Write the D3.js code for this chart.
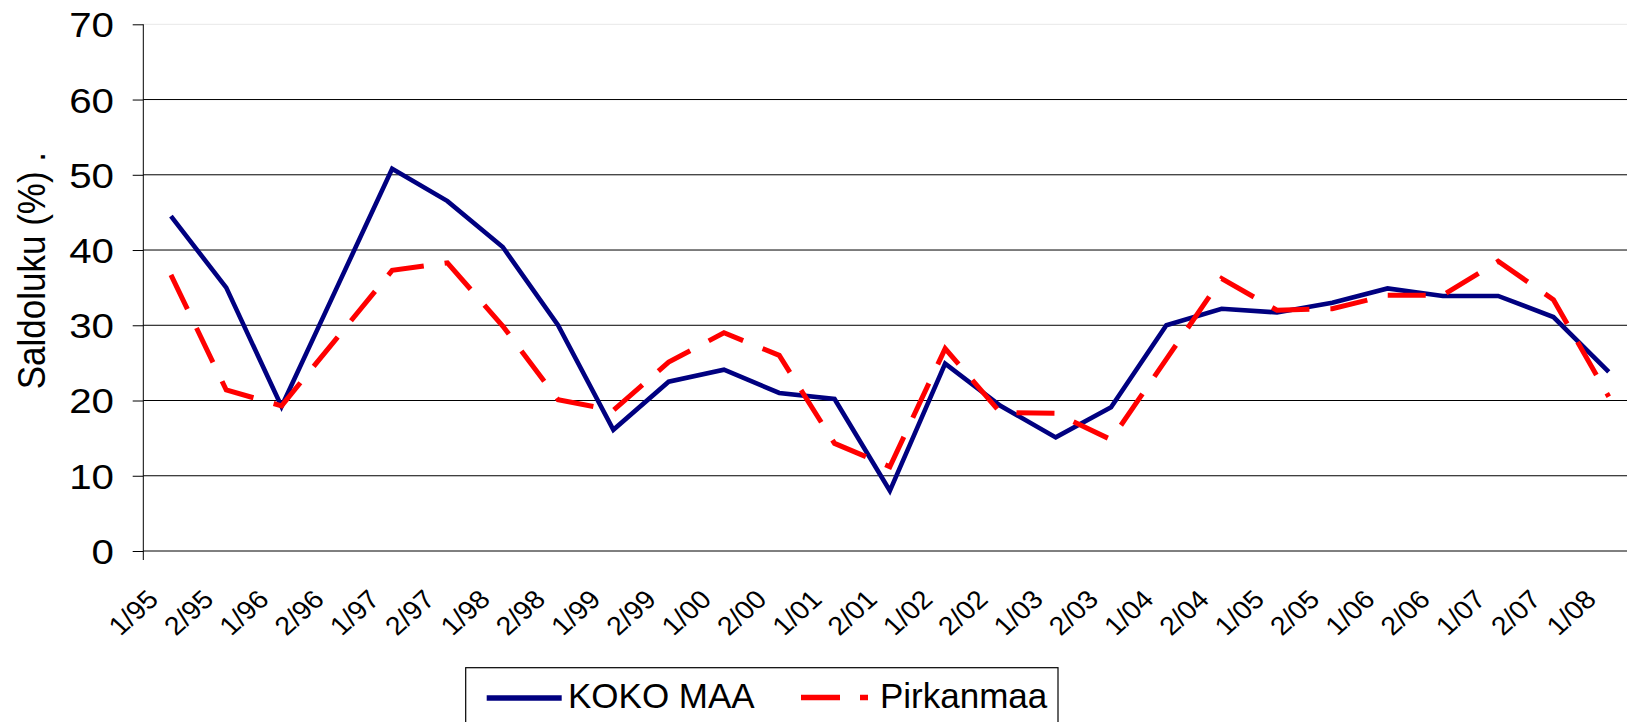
<!DOCTYPE html>
<html>
<head>
<meta charset="utf-8">
<script src="https://cdn.jsdelivr.net/npm/d3@7"></script>
<style>
html,body{margin:0;padding:0;background:#fff;}
svg{display:block;font-family:"Liberation Sans",Arial,sans-serif;}
</style>
</head>
<body>
<svg id="chart" width="1627" height="722"></svg>
<script>
const categories = ["1/95","2/95","1/96","2/96","1/97","2/97","1/98","2/98","1/99","2/99","1/00","2/00","1/01","2/01","1/02","2/02","1/03","2/03","1/04","2/04","1/05","2/05","1/06","2/06","1/07","2/07","1/08"];
const kokoMaa = [44.5,35,19.2,35,50.8,46.5,40.4,30,16.1,22.5,24.1,21,20.2,8,24.9,19.3,15.1,19.1,30,32.2,31.7,33,34.9,33.9,33.9,31.1,23.8];
const pirkanmaa = [36.7,21.4,19.3,28.3,37.3,38.3,29.9,20.1,18.7,25.1,29,26,14.3,11.2,26.9,18.4,18.3,14.8,25.5,36.2,32,32.2,34,34,38.5,33.4,20.5];
const yTicks = [0,10,20,30,40,50,60,70];
const seriesNames = ["KOKO MAA","Pirkanmaa"];
const yTitle = "Saldoluku (%) .";

const svg = d3.select("#chart");
const axisX = 143.3, plotTop = 24.3, plotBottom = 551, band = 55.3;
const x = d3.scaleBand().domain(categories).range([axisX, axisX + band*categories.length]).paddingInner(0).paddingOuter(0);
const y = d3.scaleLinear().domain([0,70]).range([plotBottom, plotTop]);
const cx = c => x(c) + x.bandwidth()/2;

// gridlines
svg.append("g").selectAll("line").data(yTicks).join("line")
  .attr("x1", axisX).attr("x2", 1627)
  .attr("y1", d => y(d)).attr("y2", d => y(d))
  .attr("stroke", d => d === 70 ? "#e8e8e8" : "#000").attr("stroke-width", 1);

// y axis ticks (labels drawn separately for horizontal stretch)
const yAxis = d3.axisLeft(y).tickValues(yTicks).tickSize(10.6).tickFormat("").tickSizeOuter(0);
const gy = svg.append("g").attr("transform", `translate(${axisX},0)`).call(yAxis);
gy.select(".domain").remove();
gy.selectAll(".tick line").attr("stroke","#000");
svg.append("g").selectAll("text").data(yTicks).join("text")
  .attr("transform", d => `translate(114,${y(d)}) scale(1.12,1)`)
  .attr("text-anchor","end").attr("dy","0.36em")
  .attr("font-size", 36).attr("fill","#000")
  .text(d => d);
svg.append("line").attr("x1", axisX).attr("x2", axisX).attr("y1", plotTop).attr("y2", plotBottom + 9)
  .attr("stroke","#000").attr("stroke-width",1);

// x labels
svg.append("g").selectAll("text").data(categories).join("text")
  .attr("transform", d => `translate(${cx(d) - 11},601) scale(1.1,1) rotate(-45)`)
  .attr("text-anchor","end").attr("font-size",26).attr("fill","#000")
  .text(d => d);

// y title
svg.append("text").attr("transform","translate(45,152) scale(1.12,1) rotate(-90)")
  .attr("text-anchor","end").attr("font-size",35).attr("fill","#000")
  .text(yTitle);

// lines
const line = d3.line().x((d,i) => cx(categories[i])).y(d => y(d));
svg.append("path").datum(kokoMaa).attr("d", line).attr("fill","none")
  .attr("stroke","#000080").attr("stroke-width",4.6);
svg.append("path").datum(pirkanmaa).attr("d", line).attr("fill","none")
  .attr("stroke","#ff0000").attr("stroke-width",5).attr("stroke-dasharray","38,21");

// legend
const lg = svg.append("g");
lg.append("rect").attr("x",465.7).attr("y",667.7).attr("width",592.3).attr("height",80)
  .attr("fill","#fff").attr("stroke","#000").attr("stroke-width",1.2);
lg.append("line").attr("x1",486.7).attr("x2",561.7).attr("y1",698).attr("y2",698)
  .attr("stroke","#000080").attr("stroke-width",5.5);
lg.append("text").attr("x",568).attr("y",708.3).attr("font-size",35).attr("fill","#000").text(seriesNames[0]);
lg.append("line").attr("x1",801).attr("x2",868).attr("y1",697.5).attr("y2",697.5)
  .attr("stroke","#ff0000").attr("stroke-width",5.5).attr("stroke-dasharray","39,20");
lg.append("text").attr("x",880).attr("y",708.3).attr("font-size",35).attr("fill","#000").text(seriesNames[1]);
</script>
</body>
</html>
